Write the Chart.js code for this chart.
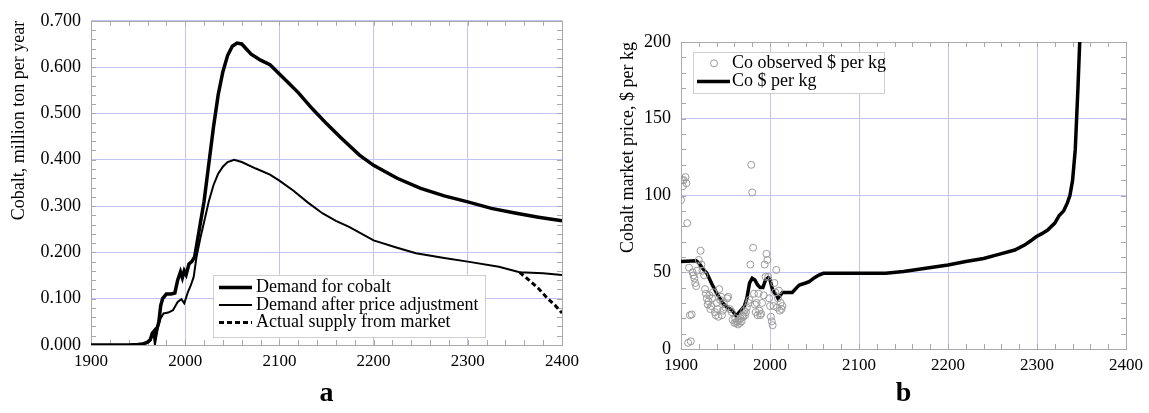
<!DOCTYPE html>
<html>
<head>
<meta charset="utf-8">
<script src="https://cdn.jsdelivr.net/npm/chart.js@4.4.1/dist/chart.umd.min.js"></script>
<style>
html, body { margin: 0; padding: 0; background: #fff; }
#wrapA { position: absolute; left: 0; top: 0; }
#wrapB { position: absolute; left: 585px; top: 0; }
</style>
</head>
<body>
<div id="wrapA"><canvas id="chartA" width="585" height="413"></canvas></div>
<div id="wrapB"><canvas id="chartB" width="564" height="413"></canvas></div>
<script>
// panel a: cobalt demand, million ton per year
const demandYears = [1900, 1920, 1940, 1950, 1955, 1960, 1963, 1965, 1967, 1968, 1970, 1972, 1974, 1976, 1980, 1985, 1989, 1992, 1995, 1997, 1999, 2001, 2004, 2007, 2010, 2015, 2020, 2025, 2030, 2035, 2040, 2045, 2050, 2055, 2060, 2070, 2080, 2090, 2100, 2110, 2120, 2135, 2150, 2165, 2185, 2200, 2225, 2250, 2275, 2300, 2325, 2350, 2375, 2400];
const demandValues = [0, 0, 0, 0.001, 0.002, 0.006, 0.012, 0.025, 0.03, 0.012, 0.035, 0.05, 0.085, 0.1, 0.11, 0.11, 0.112, 0.14, 0.158, 0.145, 0.16, 0.152, 0.175, 0.18, 0.19, 0.25, 0.31, 0.39, 0.47, 0.54, 0.59, 0.625, 0.645, 0.652, 0.65, 0.628, 0.615, 0.605, 0.585, 0.565, 0.545, 0.51, 0.478, 0.448, 0.41, 0.388, 0.36, 0.338, 0.322, 0.309, 0.295, 0.285, 0.276, 0.268];

const adjustedYears = [1900, 1940, 1950, 1955, 1960, 1963, 1965, 1967, 1968, 1970, 1972, 1974, 1977, 1982, 1987, 1992, 1996, 1999, 2003, 2006, 2009, 2012, 2016, 2020, 2025, 2030, 2035, 2040, 2045, 2052, 2060, 2075, 2090, 2100, 2115, 2130, 2146, 2160, 2174, 2200, 2225, 2245, 2275, 2300, 2333, 2355, 2380, 2400];
const adjustedValues = [0, 0, 0.001, 0.002, 0.005, 0.01, 0.02, 0.025, 0.01, 0.03, 0.045, 0.058, 0.068, 0.07, 0.075, 0.093, 0.099, 0.09, 0.115, 0.129, 0.147, 0.19, 0.23, 0.265, 0.31, 0.345, 0.37, 0.385, 0.395, 0.4, 0.395, 0.381, 0.368, 0.355, 0.333, 0.308, 0.284, 0.268, 0.255, 0.226, 0.21, 0.198, 0.188, 0.18, 0.169, 0.157, 0.155, 0.151];

const supplyYears = [2355, 2365, 2375, 2385, 2393, 2400];
const supplyValues = [0.157, 0.14, 0.122, 0.1, 0.085, 0.069];

// panel b: cobalt price, $ per kg
const priceYears = [1900, 1917, 1920, 1925, 1929, 1935, 1940, 1947, 1952, 1957, 1962, 1966, 1971, 1974, 1977, 1980, 1983, 1986, 1989, 1992, 1995, 1998, 2000, 2003, 2006, 2009, 2014, 2020, 2025, 2030, 2033, 2040, 2044, 2050, 2055, 2060, 2080, 2100, 2130, 2150, 2175, 2200, 2220, 2240, 2256, 2275, 2286, 2293, 2299, 2305, 2312, 2320, 2325, 2330, 2334, 2337, 2340, 2343, 2344.5, 2346, 2347, 2348];
const priceValues = [57, 57.5, 56, 52, 49.4, 42, 36.4, 29.9, 27, 25.5, 21.6, 24.4, 27.7, 33, 42.9, 46.1, 45, 41.8, 40, 40, 45, 46.5, 45, 38.5, 36, 33, 36.8, 36.8, 36.8, 40, 41.7, 43, 43.9, 46.5, 48.2, 49.3, 49.4, 49.3, 49.3, 50.5, 52.6, 54.7, 57, 59, 61.5, 64.5, 67.7, 70.5, 73.1, 75, 77.5, 82, 87, 90, 95, 100, 110, 130, 150, 170, 185, 200];

const observedYears = [1900, 1901, 1902, 1903, 1905, 1906, 1907, 1908, 1909, 1910, 1911, 1912, 1913, 1914, 1915, 1916, 1917, 1918, 1920, 1922, 1923, 1924, 1926, 1927, 1928, 1929, 1930, 1931, 1932, 1933, 1934, 1935, 1936, 1938, 1939, 1940, 1941, 1942, 1943, 1944, 1945, 1946, 1947, 1948, 1950, 1952, 1953, 1955, 1957, 1958, 1960, 1961, 1962, 1963, 1964, 1965, 1966, 1967, 1968, 1969, 1970, 1971, 1972, 1973, 1974, 1976, 1977, 1978, 1979, 1980, 1981, 1982, 1983, 1984, 1985, 1986, 1987, 1988, 1989, 1990, 1991, 1993, 1994, 1995, 1996, 1997, 1998, 1999, 2000, 2001, 2002, 2003, 2004, 2005, 2006, 2007, 2008, 2009, 2010, 2011, 2012, 2013, 2014];
const observedPrices = [97, 110, 106, 110, 112, 108, 82, 4, 53, 22, 5, 22.5, 50, 48, 46, 43, 41, 51, 58, 64, 55, 51, 48, 39, 36, 33, 29, 31, 35, 26, 28, 33, 37, 24, 22, 30, 26, 21, 39, 32, 34, 22, 25, 30, 27, 33, 34, 26, 24, 19, 17, 20, 17, 18, 16, 19, 17, 20, 18, 22, 21, 25, 22, 24, 27, 30, 32, 55, 120, 102, 66, 36, 29, 24, 30, 22, 36, 25, 22, 23, 30, 35, 55, 47, 62, 58, 47, 33, 28, 21, 18, 15.5, 28, 43, 37, 51.5, 27, 33, 38, 25, 30, 26, 28];

// labelled ticks
const yearLabels = [1900, 2000, 2100, 2200, 2300, 2400];
const supplyTickLabels = [0, 0.1, 0.2, 0.3, 0.4, 0.5, 0.6, 0.7];
const priceTickLabels = [0, 50, 100, 150, 200];

const toPoints = (xs, ys) => xs.map((x, i) => ({ x: x, y: ys[i] }));
const isMajor = (list, v) => list.some(m => Math.abs(m - v) < 1e-6);
const gridBlue = '#c4c4f4';
const serif = '"Liberation Serif", "Times New Roman", serif';

// frame around plot area with short inner ticks
const frameTicks = {
  id: 'frameTicks',
  beforeDatasetsDraw(chart) {
    const { ctx, chartArea: a, scales } = chart;
    ctx.save();
    ctx.strokeStyle = '#a9a9a9';
    ctx.lineWidth = 1;
    ctx.beginPath();
    scales.x.ticks.forEach(t => {
      const px = Math.round(scales.x.getPixelForValue(t.value)) + 0.5;
      ctx.moveTo(px, a.bottom); ctx.lineTo(px, a.bottom - 5);
      ctx.moveTo(px, a.top); ctx.lineTo(px, a.top + 5);
    });
    scales.y.ticks.forEach(t => {
      const py = Math.round(scales.y.getPixelForValue(t.value)) + 0.5;
      ctx.moveTo(a.left, py); ctx.lineTo(a.left + 5, py);
      ctx.moveTo(a.right, py); ctx.lineTo(a.right - 5, py);
    });
    ctx.stroke();
    ctx.strokeRect(Math.round(a.left) + 0.5, Math.round(a.top) + 0.5, Math.round(a.width), Math.round(a.height));
    ctx.restore();
  }
};

// boxed legend inside the plot
const boxLegend = {
  id: 'boxLegend',
  afterDatasetsDraw(chart, args, o) {
    const { ctx, chartArea: a } = chart;
    const left = a.left + o.dx;
    const top = a.top + o.dy;
    ctx.save();
    ctx.fillStyle = '#fff';
    ctx.fillRect(left, top, o.w, o.h);
    ctx.strokeStyle = '#cfcfcf';
    ctx.lineWidth = 1;
    ctx.strokeRect(Math.round(left) + 0.5, Math.round(top) + 0.5, o.w, o.h);
    ctx.font = '18px ' + serif;
    ctx.textBaseline = 'middle';
    chart.data.datasets.forEach((ds, i) => {
      const cy = top + o.padTop + i * o.row;
      if (ds.showLine === false) {
        ctx.strokeStyle = ds.borderColor;
        ctx.lineWidth = 1;
        ctx.beginPath();
        ctx.arc(left + o.markerX, cy, ds.pointRadius, 0, Math.PI * 2);
        ctx.stroke();
      } else {
        ctx.strokeStyle = ds.borderColor;
        ctx.lineWidth = ds.borderWidth;
        ctx.setLineDash(ds.borderDash || []);
        ctx.beginPath();
        ctx.moveTo(left + o.lineX0, cy);
        ctx.lineTo(left + o.lineX1, cy);
        ctx.stroke();
        ctx.setLineDash([]);
      }
      ctx.fillStyle = '#000';
      ctx.fillText(ds.label, left + o.textX, cy);
    });
    ctx.restore();
  }
};

function xScale(label, height) {
  return {
    type: 'linear', min: 1900, max: 2400,
    afterFit: s => { s.height = height; },
    ticks: {
      stepSize: 20, autoSkip: false, maxRotation: 0, padding: 6, color: '#000',
      font: { family: serif, size: 17 },
      callback: v => isMajor(yearLabels, v) ? String(v) : ''
    },
    grid: {
      drawTicks: false,
      color: c => isMajor(yearLabels, c.tick.value) ? gridBlue : 'rgba(0,0,0,0)'
    },
    border: { display: false },
    title: { display: true, text: label, color: '#000', padding: { top: 0, bottom: 2 },
      font: { family: serif, size: 28, weight: 'bold' } }
  };
}

new Chart(document.getElementById('chartA'), {
  type: 'line',
  data: {
    datasets: [
      { label: 'Demand for cobalt', data: toPoints(demandYears, demandValues),
        borderColor: '#000', borderWidth: 3.5, pointRadius: 0, tension: 0 },
      { label: 'Demand after price adjustment', data: toPoints(adjustedYears, adjustedValues),
        borderColor: '#000', borderWidth: 2, pointRadius: 0, tension: 0 },
      { label: 'Actual supply from market', data: toPoints(supplyYears, supplyValues),
        borderColor: '#000', borderWidth: 3, borderDash: [5, 3], pointRadius: 0, tension: 0 }
    ]
  },
  options: {
    responsive: false, animation: false,
    layout: { padding: { left: 0, right: 21, top: 20, bottom: 0 } },
    plugins: {
      legend: { display: false }, tooltip: { enabled: false },
      boxLegend: { dx: 122, dy: 254, w: 272, h: 62, padTop: 12.7, row: 17.5, lineX0: 6, lineX1: 39, markerX: 20, textX: 43 }
    },
    scales: {
      x: xScale('a', 68),
      y: {
        min: 0, max: 0.7,
        afterFit: s => { s.width = 91; },
        ticks: {
          stepSize: 0.02, autoSkip: false, padding: 10, color: '#000',
          font: { family: serif, size: 18 },
          callback: v => isMajor(supplyTickLabels, v) ? v.toFixed(3) : ''
        },
        grid: {
          drawTicks: false,
          color: c => isMajor(supplyTickLabels, c.tick.value) ? gridBlue : 'rgba(0,0,0,0)'
        },
        border: { display: false },
        title: { display: true, text: 'Cobalt, million ton per year', align: 'end', color: '#000',
          padding: { top: 8, bottom: 0 }, font: { family: serif, size: 18 } }
      }
    }
  },
  plugins: [frameTicks, boxLegend]
});

new Chart(document.getElementById('chartB'), {
  type: 'line',
  data: {
    datasets: [
      { label: 'Co observed $ per kg', data: toPoints(observedYears, observedPrices),
        showLine: false, pointRadius: 3.5, borderWidth: 1, borderColor: '#9a9a9a',
        backgroundColor: 'rgba(255,255,255,0)', order: 1 },
      { label: 'Co $ per kg', data: toPoints(priceYears, priceValues),
        borderColor: '#000', borderWidth: 3.5, pointRadius: 0, tension: 0, order: 2 }
    ]
  },
  options: {
    responsive: false, animation: false,
    layout: { padding: { left: 0, right: 20, top: 42, bottom: 0 } },
    plugins: {
      legend: { display: false }, tooltip: { enabled: false },
      boxLegend: { dx: 12, dy: 10, w: 191, h: 41, padTop: 11.3, row: 18.3, lineX0: 4, lineX1: 37, markerX: 21, textX: 39 }
    },
    scales: {
      x: xScale('b', 64),
      y: {
        min: 0, max: 200,
        afterFit: s => { s.width = 96; },
        ticks: {
          stepSize: 10, autoSkip: false, padding: 10, color: '#000',
          font: { family: serif, size: 18 },
          callback: v => isMajor(priceTickLabels, v) ? String(v) : ''
        },
        grid: {
          drawTicks: false,
          color: c => isMajor(priceTickLabels, c.tick.value) ? gridBlue : 'rgba(0,0,0,0)'
        },
        border: { display: false },
        title: { display: true, text: 'Cobalt market price, $ per kg', align: 'end', color: '#000',
          padding: { top: 32, bottom: 0 }, font: { family: serif, size: 18 } }
      }
    }
  },
  plugins: [frameTicks, boxLegend]
});
</script>
</body>
</html>
